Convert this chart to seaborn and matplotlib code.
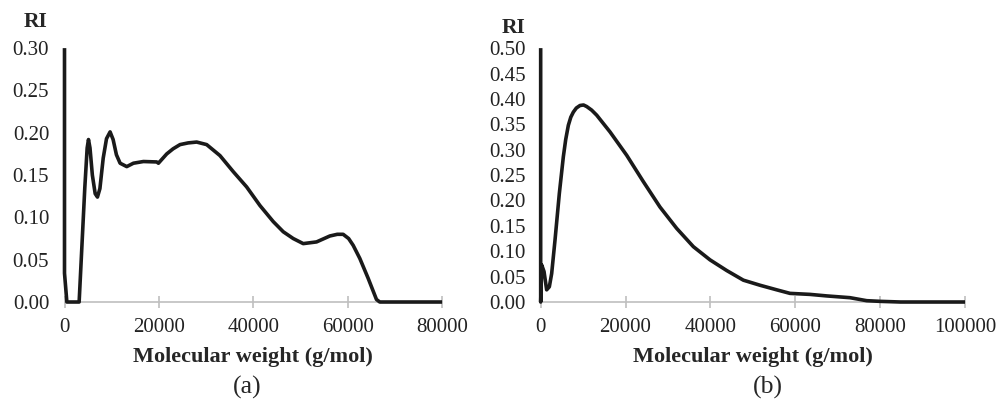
import numpy as np
import pandas as pd
import matplotlib
matplotlib.use("Agg")
import matplotlib.pyplot as plt
import seaborn as sns

# (a) RI vs molecular weight
mw_a = [0, 0, 500, 3100, 4300, 4800, 5080, 5400, 5900, 6500, 6980, 7500, 8200, 8900, 9660,
        10300, 11000, 11780, 13190, 14600, 16720, 19540, 19900,
        21660, 23000, 24480, 26200, 28000, 30120, 32940, 35760, 38590, 41410, 44230, 46350, 48460,
        50580, 53400, 56220, 57800, 59040, 60200, 61160, 62570, 64340, 66100, 66800, 80000]
ri_a = [0.30, 0.034, 0.0, 0.0, 0.135, 0.182, 0.192, 0.182, 0.150, 0.128, 0.124, 0.134, 0.170, 0.193, 0.201,
        0.192, 0.174, 0.164, 0.160, 0.164, 0.166, 0.1655, 0.164,
        0.175, 0.181, 0.186, 0.188, 0.189, 0.186, 0.173, 0.154, 0.136, 0.114, 0.095, 0.083, 0.075,
        0.069, 0.071, 0.078, 0.080, 0.080, 0.075, 0.067, 0.0515, 0.028, 0.003, 0.0, 0.0]

# (b)
mw_b = [0, 0, 240, 790, 1410, 2040, 2590, 3380, 4400, 5340, 5900, 6520, 7100, 7700, 8400, 9270, 10100,
        10840, 12000, 13200, 16340, 20270, 24200, 28120, 32050, 35980, 39910, 43840, 47770, 51700,
        55620, 58760, 63470, 67400, 72900, 76830, 80000, 84800, 100000]
ri_b = [0.50, 0.0, 0.073, 0.060, 0.024, 0.030, 0.056, 0.122, 0.214, 0.286, 0.320, 0.348, 0.364, 0.374, 0.382, 0.387, 0.388,
        0.385, 0.378, 0.368, 0.335, 0.289, 0.237, 0.187, 0.145, 0.109, 0.083, 0.062, 0.043, 0.033,
        0.024, 0.017, 0.015, 0.012, 0.0085, 0.0026, 0.0013, 0.0, 0.0]

sns.set_theme(style="white")
plt.rcParams['font.family'] = ['Liberation Serif', 'DejaVu Serif']

fig = plt.figure(figsize=(9.97, 4.03), dpi=100)
ax1 = fig.add_axes([0.0647, 0.2506, 0.3787, 0.630])
ax2 = fig.add_axes([0.5423, 0.2506, 0.4256, 0.630])

panels = [
    (ax1, mw_a, ri_a, 80000, 0.30, np.arange(0, 80001, 20000), np.arange(0, 0.301, 0.05)),
    (ax2, mw_b, ri_b, 100000, 0.50, np.arange(0, 100001, 20000), np.arange(0, 0.501, 0.05)),
]

for ax, x, y, xmax, ymax, xt, yt in panels:
    df = pd.DataFrame({"mw": x, "ri": y})
    sns.lineplot(data=df, x="mw", y="ri", ax=ax, sort=False, estimator=None,
                 color="#1a1a1a", linewidth=2.6, clip_on=False, zorder=5,
                 solid_joinstyle="round", solid_capstyle="butt")
    ax.set_xlim(0, xmax)
    ax.set_ylim(0, ymax)
    ax.set_xticks(xt)
    ax.set_yticks(yt)
    ax.set_yticklabels([f"{v:.2f}" for v in yt])
    for s in ["top", "right", "left"]:
        ax.spines[s].set_visible(False)
    ax.spines["bottom"].set_color("#bfbfbf")
    ax.spines["bottom"].set_linewidth(1.2)
    ax.tick_params(axis="x", direction="inout", length=9, width=1.2, color="#bfbfbf",
                   pad=7, labelsize=15, labelcolor="#222222", bottom=True)
    ax.tick_params(axis="y", length=0, pad=11, labelsize=15, labelcolor="#222222", left=True)
    ax.set_xlabel("Molecular weight (g/mol)", fontsize=16, fontweight="bold", labelpad=7)
    ax.set_ylabel("")
    ax.grid(False)

fig.text(36 / 997, 1 - 22 / 403, "RI", fontsize=15.5, fontweight="bold", ha="center", va="center")
fig.text(514 / 997, 1 - 28 / 403, "RI", fontsize=15.5, fontweight="bold", ha="center", va="center")
fig.text(247 / 997, 1 - 387 / 403, "(a)", fontsize=18.5, ha="center", va="center")
fig.text(768 / 997, 1 - 387 / 403, "(b)", fontsize=18.5, ha="center", va="center")

fig.savefig("out.png", dpi=100)
